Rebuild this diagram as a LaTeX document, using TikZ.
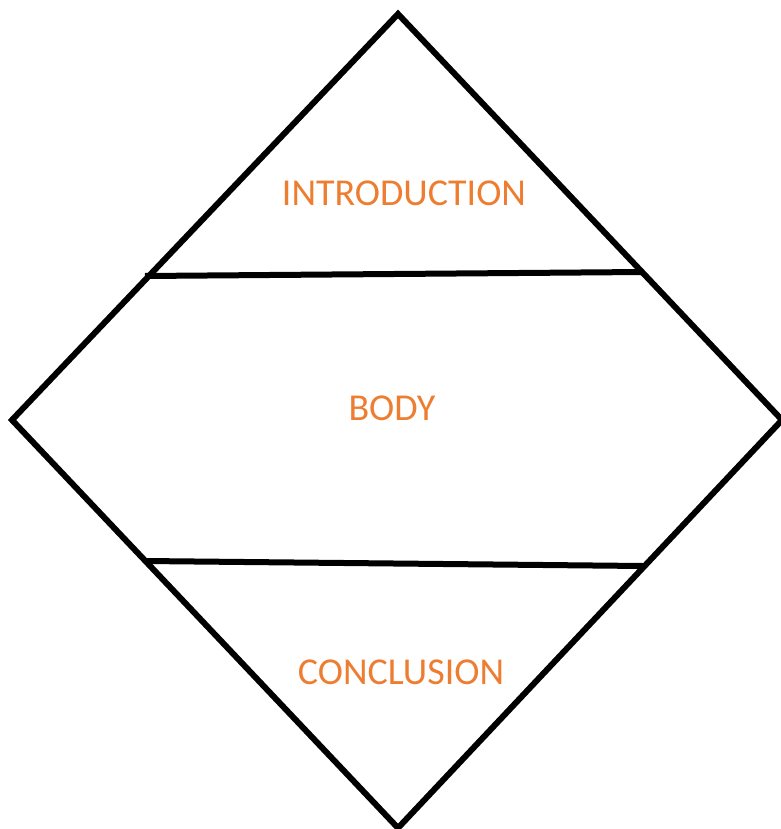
\documentclass[tikz,border=0pt]{standalone}
\usepackage{fontspec}
\setmainfont{Carlito}
\usepackage{tikz}
\usetikzlibrary{positioning}
\definecolor{partorange}{RGB}{237,125,49}

\begin{document}
\begin{tikzpicture}[x=1pt, y=-1pt, line width=6pt, line join=miter,
  every node/.style={text=partorange, font=\fontsize{38}{42}\selectfont, inner sep=0pt}]
\useasboundingbox (0,0) rectangle (780,829);
\coordinate (top) at (398,14);
\coordinate (left) at (12,420);
\coordinate (right) at (782,420);
\coordinate (bottom) at (398,828);
\coordinate (a1) at (145,276);
\coordinate (a2) at (643,272);
\coordinate (b1) at (145,561);
\coordinate (b2) at (643,566);
\draw (top) -- (right) -- (bottom) -- (left) -- cycle;
\draw (a1) -- (a2);
\draw (b1) -- (b2);
\node (intro) at (404,193) {INTRODUCTION};
\node (body) at (392,408) {BODY};
\node (concl) at (401,672) {CONCLUSION};
\end{tikzpicture}
\end{document}
